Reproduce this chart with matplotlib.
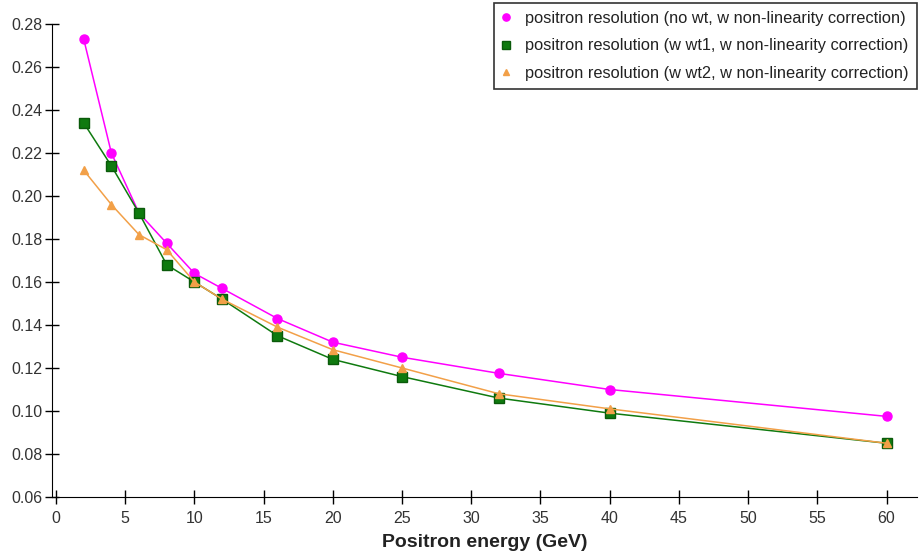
#陽電子のエネルギー分解能
import matplotlib.pyplot as plt

plt.rcParams['font.family'] = ['Liberation Sans', 'DejaVu Sans']

energy = [2, 4, 6, 8, 10, 12, 16, 20, 25, 32, 40, 60]
res_no_wt = [0.273, 0.220, 0.192, 0.178, 0.164, 0.157, 0.143, 0.132, 0.125, 0.1175, 0.110, 0.0975]
res_wt1 = [0.234, 0.214, 0.192, 0.168, 0.160, 0.152, 0.135, 0.124, 0.116, 0.106, 0.099, 0.085]
res_wt2 = [0.212, 0.196, 0.182, 0.175, 0.160, 0.152, 0.139, 0.1285, 0.120, 0.108, 0.101, 0.085]

labels = ['positron resolution (no wt, w non-linearity correction)',
          'positron resolution (w wt1, w non-linearity correction)',
          'positron resolution (w wt2, w non-linearity correction)']

fig = plt.figure(figsize=(9.19, 5.57), dpi=100)
ax = fig.add_axes([52/919, 60/557, 865/919, 473/557])

ax.plot(energy, res_no_wt, '-o', color='#ff00ff', lw=1.1, ms=6.5, label=labels[0])
ax.plot(energy, res_wt1, '-s', color='#0f7a0f', mec='#0a5a0a', lw=1.1, ms=6.5, label=labels[1])
ax.plot(energy, res_wt2, '-^', color='#f2a048', lw=1.1, ms=6, label=labels[2])

ax.set_xlim(-0.29, 62.2)
ax.set_ylim(0.06, 0.28)
ax.set_xticks(range(0, 61, 5))
ax.set_yticks([0.06 + 0.02*i for i in range(12)])
ax.yaxis.set_major_formatter(plt.FormatStrFormatter('%.2f'))
ax.tick_params(direction='inout', length=10, width=1, labelsize=11.5, labelcolor='#333333')
ax.tick_params(axis='x', pad=5)
ax.tick_params(axis='y', pad=2)
ax.spines['top'].set_visible(False)
ax.spines['right'].set_visible(False)
ax.set_xlabel('Positron energy (GeV)', fontsize=14, fontweight='bold', labelpad=6, color='#222222')

leg = fig.legend(loc='upper right', bbox_to_anchor=(917/919, 554/557), borderaxespad=0,
                 fontsize=11.8, frameon=True, fancybox=False, edgecolor='#333333',
                 handlelength=0.5, handletextpad=0.9, markerscale=0.8, borderpad=0.5,
                 labelspacing=0.75, framealpha=1)
leg.get_frame().set_linewidth(1.2)
for t in leg.get_texts():
    t.set_color('#222222')
for h in leg.legend_handles:
    h.set_linestyle('')

fig.savefig('out.png', dpi=100)
